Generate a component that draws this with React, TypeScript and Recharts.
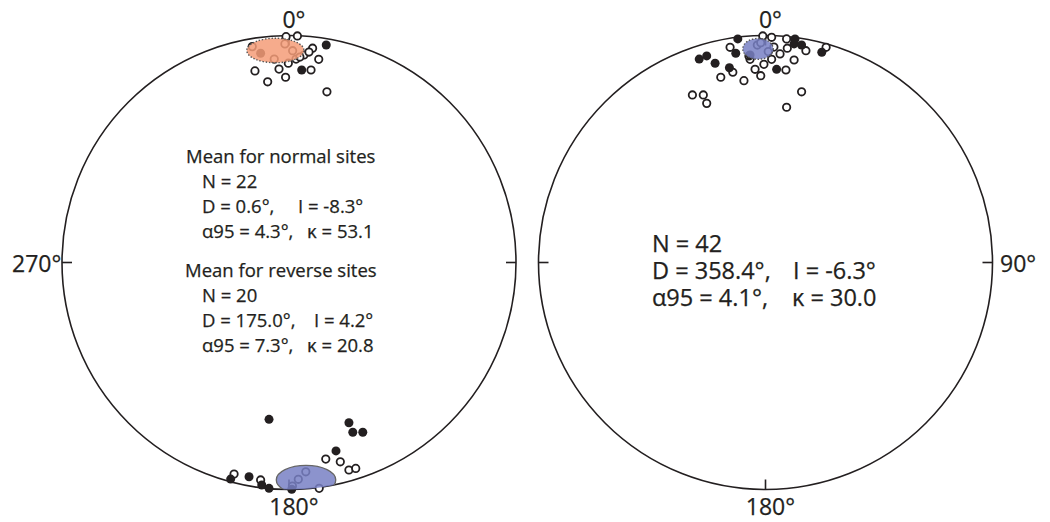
import React from 'react';
import { ScatterChart, Scatter, XAxis, YAxis, ReferenceDot, ReferenceLine } from 'recharts';

// equal-area net, coordinates in units of the primitive radius (x = east, y = north)
const leftOpen = [
  { x: -0.162, y: 0.951 }, { x: -0.013, y: 0.995 }, { x: 0.037, y: 0.998 }, { x: -0.018, y: 0.963 },
  { x: 0.016, y: 0.933 }, { x: -0.065, y: 0.896 }, { x: 0.104, y: 0.944 }, { x: 0.066, y: 0.914 },
  { x: 0.031, y: 0.896 }, { x: -0.003, y: 0.878 }, { x: 0.088, y: 0.927 }, { x: 0.131, y: 0.895 },
  { x: -0.15, y: 0.844 }, { x: -0.044, y: 0.852 }, { x: 0.097, y: 0.848 }, { x: -0.094, y: 0.796 },
  { x: -0.015, y: 0.816 }, { x: 0.167, y: 0.752 }, { x: 0.048, y: 0.905 },
  // reverse sites
  { x: 0.162, y: -0.866 }, { x: 0.226, y: -0.878 }, { x: 0.264, y: -0.914 }, { x: 0.294, y: -0.907 },
  { x: -0.242, y: -0.932 }, { x: -0.125, y: -0.958 }, { x: 0.015, y: -0.985 }, { x: 0.041, y: -0.955 },
  { x: 0.074, y: -0.922 }, { x: 0.133, y: -0.995 },
];
const leftFilled = [
  { x: -0.125, y: 0.922 }, { x: 0.164, y: 0.958 }, { x: 0.056, y: 0.848 },
  // reverse sites
  { x: -0.088, y: -0.691 }, { x: 0.264, y: -0.706 }, { x: 0.281, y: -0.748 }, { x: 0.325, y: -0.748 },
  { x: 0.207, y: -0.83 }, { x: -0.257, y: -0.954 }, { x: -0.176, y: -0.944 }, { x: -0.12, y: -0.98 },
  { x: -0.088, y: -0.995 }, { x: 0.012, y: -0.999 },
];
const leftCones = [
  { x: -0.06, y: 0.934, rx: 0.126, ry: 0.054, fill: '#f59c78', dashed: true },
  { x: 0.075, y: -0.958, rx: 0.131, ry: 0.064, fill: '#7880c4', dashed: false },
];

const rightOpen = [
  { x: -0.156, y: 0.948 }, { x: -0.012, y: 0.998 }, { x: 0.027, y: 0.992 }, { x: 0.093, y: 0.985 },
  { x: -0.036, y: 0.958 }, { x: 0.012, y: 0.929 }, { x: -0.068, y: 0.895 }, { x: 0.096, y: 0.944 },
  { x: 0.178, y: 0.933 }, { x: 0.267, y: 0.948 }, { x: 0.064, y: 0.919 }, { x: 0.027, y: 0.895 },
  { x: -0.007, y: 0.873 }, { x: -0.046, y: 0.851 }, { x: 0.126, y: 0.892 }, { x: -0.144, y: 0.838 },
  { x: -0.021, y: 0.823 }, { x: 0.09, y: 0.848 }, { x: -0.197, y: 0.816 }, { x: -0.095, y: 0.801 },
  { x: -0.322, y: 0.738 }, { x: -0.274, y: 0.738 }, { x: -0.259, y: 0.701 }, { x: 0.159, y: 0.752 },
  { x: 0.093, y: 0.684 }, { x: -0.021, y: 0.968 }, { x: -0.073, y: 0.91 }, { x: 0.037, y: 0.949 },
];
const rightFilled = [
  { x: -0.122, y: 0.985 }, { x: -0.131, y: 0.922 }, { x: -0.259, y: 0.91 }, { x: -0.292, y: 0.896 },
  { x: -0.222, y: 0.878 }, { x: -0.159, y: 0.858 }, { x: -0.068, y: 0.914 }, { x: 0.13, y: 0.985 },
  { x: 0.126, y: 0.963 }, { x: 0.159, y: 0.958 }, { x: 0.248, y: 0.926 }, { x: 0.049, y: 0.851 },
];
const rightCones = [
  { x: -0.033, y: 0.941, rx: 0.067, ry: 0.046, fill: '#7880c4', dashed: true },
];

// stats text: [first column, second column]
const normalTitle = 'Mean for normal sites';
const normalLines = [['N = 22', ''], ['D = 0.6°,', 'I = -8.3°'], ['α95 = 4.3°,', 'κ = 53.1']];
const reverseTitle = 'Mean for reverse sites';
const reverseLines = [['N = 20', ''], ['D = 175.0°,', 'I = 4.2°'], ['α95 = 7.3°,', 'κ = 20.8']];
const allLines = [['N = 42', ''], ['D = 358.4°,', 'I = -6.3°'], ['α95 = 4.1°,', 'κ = 30.0']];

const K = 227; // px per unit radius
const H = 522;
const CY = 262.5;
const FONT = '"Open Sans", "Noto Sans", sans-serif';
const INK = '#231f20';
const TICK = 10 / K;

const OpenDot = (p: any) => <circle cx={p.cx} cy={p.cy} r={3.7} fill="#fff" stroke={INK} strokeWidth={1.8} />;
const FilledDot = (p: any) => <circle cx={p.cx} cy={p.cy} r={4.5} fill={INK} />;

function Net({ left, width, cx, open, filled, cones, id }: any) {
  const xDomain = [-(cx - left) / K, (left + width - cx) / K];
  const yDomain = [-(H - CY) / K, CY / K];
  const Cone = (p: any) => {
    const e = p.payload;
    const ox = p.cx - e.x * K;
    const oy = p.cy + e.y * K;
    const cid = `${id}-clip-${p.index}`;
    return (
      <g>
        <defs>
          <clipPath id={cid}>
            <circle cx={ox} cy={oy} r={K} />
          </clipPath>
        </defs>
        <ellipse
          cx={p.cx}
          cy={p.cy}
          rx={e.rx * K}
          ry={e.ry * K}
          fill={e.fill}
          fillOpacity={0.85}
          stroke={e.dashed ? '#555' : '#666'}
          strokeWidth={e.dashed ? 1.4 : 1.3}
          strokeDasharray={e.dashed ? '1.4 1.8' : undefined}
          clipPath={`url(#${cid})`}
        />
      </g>
    );
  };
  return (
    <div style={{ position: 'absolute', left, top: 0 }}>
      <ScatterChart width={width} height={H} margin={{ top: 0, right: 0, bottom: 0, left: 0 }}>
        <XAxis type="number" dataKey="x" domain={xDomain} hide allowDataOverflow />
        <YAxis type="number" dataKey="y" domain={yDomain} hide allowDataOverflow />
        <ReferenceDot x={0} y={0} r={K} fill="none" stroke={INK} strokeWidth={1.6} ifOverflow="visible" />
        <ReferenceLine segment={[{ x: 0, y: 1 }, { x: 0, y: 1 - TICK }]} stroke={INK} strokeWidth={1.6} />
        <ReferenceLine segment={[{ x: 0, y: -1 }, { x: 0, y: -1 + TICK }]} stroke={INK} strokeWidth={1.6} />
        <ReferenceLine segment={[{ x: 1, y: 0 }, { x: 1 - TICK, y: 0 }]} stroke={INK} strokeWidth={1.6} />
        <ReferenceLine segment={[{ x: -1, y: 0 }, { x: -1 + TICK, y: 0 }]} stroke={INK} strokeWidth={1.6} />
        <Scatter data={open} shape={OpenDot} isAnimationActive={false} />
        <Scatter data={filled} shape={FilledDot} isAnimationActive={false} />
        <Scatter data={cones} shape={Cone} isAnimationActive={false} />
      </ScatterChart>
    </div>
  );
}

const txt = (left: number, top: number, s: string, size: number) => (
  <div
    key={`${left}-${top}-${s}`}
    style={{
      position: 'absolute',
      left,
      top,
      fontSize: size,
      lineHeight: 1,
      whiteSpace: 'pre',
      color: INK,
      WebkitTextStroke: '0.25px ' + INK,
      transform: 'translateY(-50%)',
    }}
  >
    {s}
  </div>
);

const block = (lines: string[][], x1: number, x2s: number[], y0: number, dy: number, size: number) =>
  lines.flatMap((l, i) => [txt(x1, y0 + i * dy, l[0], size), l[1] ? txt(x2s[i], y0 + i * dy, l[1], size) : null]);

const Deg = ({ x, y, v }: { x: number; y: number; v: string }) => (
  <div
    style={{
      position: 'absolute',
      left: x,
      top: y,
      fontSize: 23,
      lineHeight: 1,
      color: INK,
      WebkitTextStroke: '0.25px ' + INK,
      transform: 'translate(-50%, -50%)',
    }}
  >
    {v}
    <span style={{ position: 'absolute', left: '100%', top: 0 }}>°</span>
  </div>
);

export default function App() {
  return (
    <div style={{ position: 'absolute', left: 0, top: 0, width: 1050, height: H, background: '#fff', fontFamily: FONT, overflow: 'hidden' }}>
      <Net id="l" left={0} width={525} cx={289} open={leftOpen} filled={leftFilled} cones={leftCones} />
      <Net id="r" left={525} width={525} cx={765.5} open={rightOpen} filled={rightFilled} cones={rightCones} />

      <Deg x={289} y={19} v="0" />
      <Deg x={289} y={506} v="180" />
      <Deg x={765.5} y={19} v="0" />
      <Deg x={765.5} y={506} v="180" />
      {txt(12, 263, '270°', 23)}
      {txt(1000, 263, '90°', 23)}

      {txt(186, 156, normalTitle, 18.5)}
      {block(normalLines, 202, [0, 298, 307], 181, 25, 18.5)}
      {txt(185, 270, reverseTitle, 18.5)}
      {block(reverseLines, 202, [0, 314, 307], 295, 25, 18.5)}
      {block(allLines, 652, [0, 793, 792], 244, 27, 23.5)}
    </div>
  );
}
